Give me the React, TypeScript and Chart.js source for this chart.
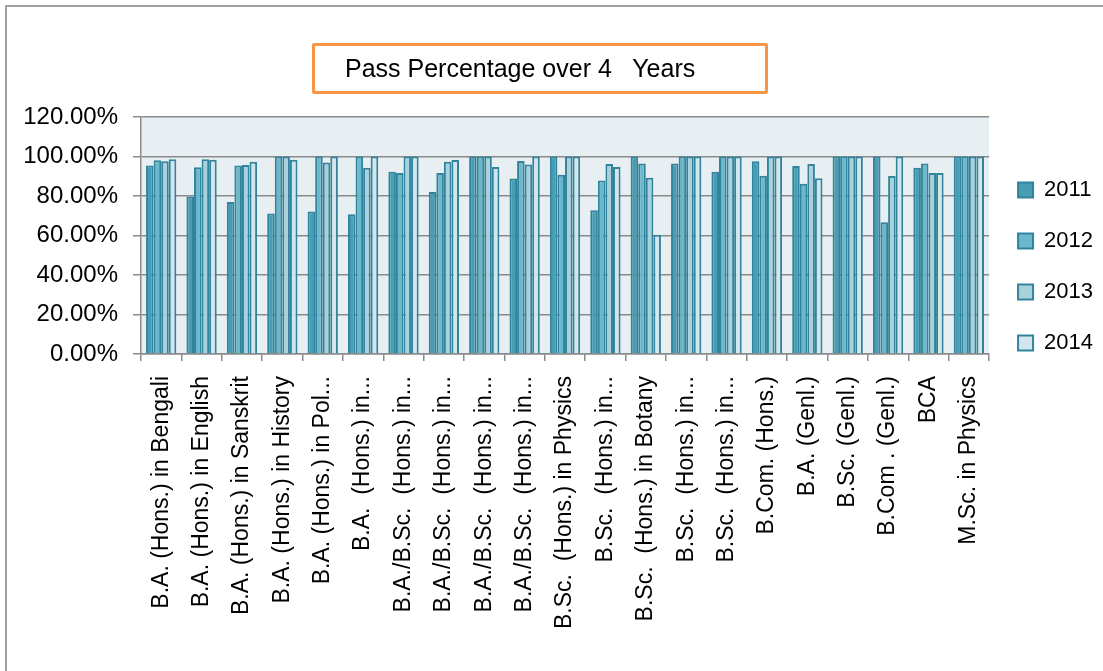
import React, { useEffect, useRef } from "react";
import { Chart, registerables } from "chart.js";

Chart.register(...registerables);

const categories = [
  "B.A. (Hons.) in Bengali",
  "B.A. (Hons.) in English",
  "B.A. (Hons.) in Sanskrit",
  "B.A. (Hons.) in History",
  "B.A. (Hons.) in Pol...",
  "B.A.  (Hons.) in...",
  "B.A./B.Sc.  (Hons.) in...",
  "B.A./B.Sc.  (Hons.) in...",
  "B.A./B.Sc.  (Hons.) in...",
  "B.A./B.Sc.  (Hons.) in...",
  "B.Sc.  (Hons.) in Physics",
  "B.Sc.  (Hons.) in...",
  "B.Sc.  (Hons.) in Botany",
  "B.Sc.  (Hons.) in...",
  "B.Sc.  (Hons.) in...",
  "B.Com. (Hons.)",
  "B.A. (Genl.)",
  "B.Sc. (Genl.)",
  "B.Com . (Genl.)",
  "BCA",
  "M.Sc. in Physics",
];

const seriesNames = ["2011", "2012", "2013", "2014"];

const values2011 = [95.5, 79.8, 77.0, 71.2, 72.1, 70.7, 92.3, 82.0, 100, 88.8, 100, 72.8, 100, 96.5, 92.3, 97.6, 95.2, 100, 100, 94.3, 100];
const values2012 = [98.1, 94.5, 95.4, 100, 100, 100, 91.6, 91.6, 100, 97.7, 90.8, 87.9, 96.4, 100, 100, 90.3, 86.2, 100, 66.7, 96.5, 100];
const values2013 = [97.6, 98.6, 95.7, 100, 97.0, 94.3, 100, 97.4, 100, 95.9, 100, 96.2, 89.3, 100, 100, 100, 96.2, 100, 90.1, 91.6, 100];
const values2014 = [98.6, 98.4, 97.4, 98.4, 100, 100, 100, 98.2, 94.7, 100, 100, 94.7, 60.4, 100, 100, 100, 89.0, 100, 100, 91.6, 100];

const yTickValues = [0, 20, 40, 60, 80, 100, 120];

const fillColors = ["#479db4", "#6bb7cb", "#a9d0dd", "#d4e6ed"];
const borderColor = "#31849b";
const gridColor = "#8a8a8a";
const FONT = "'Liberation Sans', Arial, sans-serif";

const plotBg = {
  id: "plotBg",
  beforeDraw(chart: any) {
    const { ctx, chartArea } = chart;
    if (!chartArea) return;
    ctx.save();
    ctx.fillStyle = "#e8eff2";
    ctx.fillRect(chartArea.left, chartArea.top, chartArea.right - chartArea.left, chartArea.bottom - chartArea.top);
    ctx.restore();
  },
};

export default function App() {
  const canvasRef = useRef<HTMLCanvasElement | null>(null);

  useEffect(() => {
    document.body.style.margin = "0";
    document.body.style.background = "#ffffff";
    const canvas = canvasRef.current;
    if (!canvas) return;
    const allValues = [values2011, values2012, values2013, values2014];
    const chart = new Chart(canvas, {
      type: "bar",
      data: {
        labels: categories,
        datasets: seriesNames.map((name, i) => ({
          label: name,
          data: allValues[i],
          backgroundColor: fillColors[i],
          borderColor: borderColor,
          borderWidth: 2,
          categoryPercentage: 0.75,
          barPercentage: 1.0,
        })),
      },
      options: {
        responsive: false,
        animation: false,
        devicePixelRatio: 1,
        layout: { padding: { top: 117, left: 0, right: 0, bottom: 0 } },
        plugins: {
          title: { display: false },
          tooltip: { enabled: false },
          legend: {
            display: true,
            position: "right",
            align: "start",
            fullSize: true,
            title: {
              display: true,
              text: " ",
              padding: { top: 10.5, bottom: 10.5 },
              font: { family: FONT, size: 10, lineHeight: 1.2 },
            },
            labels: {
              boxWidth: 15,
              boxHeight: 15,
              padding: 29,
              color: "#000000",
              font: { family: FONT, size: 22 },
            },
          },
        },
        scales: {
          x: {
            afterFit: (scale: any) => {
              scale.height = 317;
            },
            grid: {
              display: true,
              drawOnChartArea: false,
              drawTicks: true,
              tickLength: 7,
              color: gridColor,
              lineWidth: 1.5,
              offset: true,
            },
            border: { display: true, color: gridColor, width: 1.5 },
            ticks: {
              autoSkip: false,
              minRotation: 90,
              maxRotation: 90,
              padding: 15,
              color: "#000000",
              font: { family: FONT, size: 23 },
            },
          },
          y: {
            min: 0,
            max: 120,
            afterFit: (scale: any) => {
              scale.width = 141;
            },
            afterBuildTicks: (scale: any) => {
              scale.ticks = yTickValues.map((v) => ({ value: v }));
            },
            grid: {
              display: true,
              drawTicks: true,
              tickLength: 8,
              color: gridColor,
              lineWidth: 1.5,
            },
            border: { display: true, color: gridColor, width: 1.5 },
            ticks: {
              padding: 15,
              color: "#000000",
              font: { family: FONT, size: 24 },
              callback: (v: any) => Number(v).toFixed(2) + "%",
            },
          },
        },
      },
      plugins: [plotBg],
    });
    return () => {
      chart.destroy();
    };
  }, []);

  return (
    <div style={{ position: "relative", width: 1103, height: 671, background: "#fff", overflow: "hidden" }}>
      <div
        style={{
          position: "absolute",
          left: 5,
          top: 5,
          width: 1098,
          height: 666,
          boxSizing: "border-box",
          borderLeft: "2px solid #a0a0a0",
          borderTop: "2px solid #a0a0a0",
        }}
      />
      <canvas
        ref={canvasRef}
        width={1103}
        height={671}
        style={{ position: "absolute", left: 0, top: 0, width: 1103, height: 671, display: "block" }}
      />
      <div
        style={{
          position: "absolute",
          left: 312,
          top: 43,
          width: 456,
          height: 51,
          boxSizing: "border-box",
          border: "3px solid #f79646",
          borderRadius: 2,
          fontFamily: FONT,
          fontSize: 25,
          lineHeight: "44px",
          paddingLeft: 30,
          whiteSpace: "pre",
          color: "#000",
          background: "transparent",
        }}
      >
        {"Pass Percentage over 4   Years"}
      </div>
    </div>
  );
}
